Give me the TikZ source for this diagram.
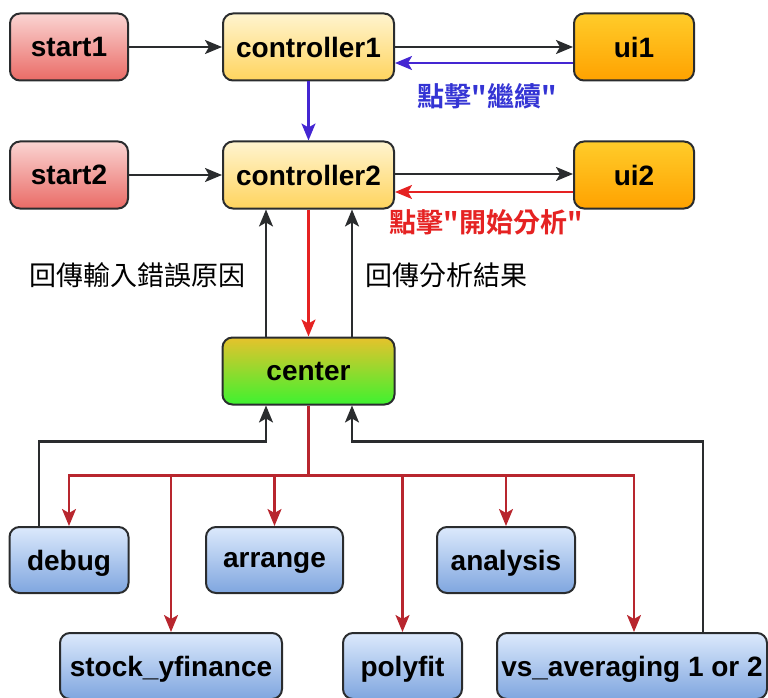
\documentclass[tikz,border=0pt]{standalone}
\usepackage{fontspec}
\setmainfont{Liberation Sans}
\newfontfamily\cjk{Noto Sans CJK TC}[BoldFont={Noto Sans CJK TC Bold}]
\usetikzlibrary{arrows.meta,calc}

\definecolor{edge}{HTML}{2A2C2E}
\definecolor{linkblue}{HTML}{4426D2}
\definecolor{labelblue}{HTML}{3434D4}
\definecolor{linkred}{HTML}{E52222}
\definecolor{busred}{HTML}{B8262E}
\definecolor{startT}{HTML}{FAD4D2}
\definecolor{startB}{HTML}{EA6B66}
\definecolor{ctrlT}{HTML}{FFF4CF}
\definecolor{ctrlB}{HTML}{FFD45E}
\definecolor{uiT}{HTML}{FFCC2A}
\definecolor{uiB}{HTML}{FFA200}
\definecolor{hubT}{HTML}{E6C22C}
\definecolor{hubB}{HTML}{3EF230}
\definecolor{modT}{HTML}{DCE9FC}
\definecolor{modB}{HTML}{7FA6DF}

\tikzset{
  box/.style={draw=edge, line width=2pt, rounded corners=10pt,
    font=\fontsize{28}{32}\selectfont\bfseries, text=black,
    minimum height=67pt, inner sep=0pt, text depth=0pt},
  startbox/.style={box, minimum width=118pt, top color=startT, bottom color=startB},
  ctrlbox/.style={box, minimum width=171pt, top color=ctrlT, bottom color=ctrlB},
  uibox/.style={box, minimum width=120pt, top color=uiT, bottom color=uiB},
  hubbox/.style={box, minimum width=172pt, top color=hubT, bottom color=hubB},
  modbox/.style={box, minimum height=66pt, top color=modT, bottom color=modB},
  tip/.style={-{Stealth[length=17pt,width=14pt,inset=4pt]}},
  arr/.style={tip, draw=edge, line width=2.2pt},
  arrblue/.style={tip, draw=linkblue, line width=2.2pt},
  arrred/.style={tip, draw=linkred, line width=2.2pt},
  arrbus/.style={tip, draw=busred, line width=2.2pt},
  note/.style={font=\cjk\fontsize{27}{30}\selectfont, inner sep=0pt},
  bnote/.style={font=\cjk\bfseries\fontsize{27}{30}\selectfont, inner sep=0pt}
}

\begin{document}
\begin{tikzpicture}[x=1pt, y=-1pt]
\useasboundingbox (0,0) rectangle (768,698);

% top two rows
\node[startbox] (start1) at (69,47) {start1};
\node[ctrlbox] (controller1) at (308.5,47) {controller1};
\node[uibox] (ui1) at (634,47) {ui1};
\node[startbox] (start2) at (69,175) {start2};
\node[ctrlbox] (controller2) at (308.5,175) {controller2};
\node[uibox] (ui2) at (634,175) {ui2};

% hub
\node[hubbox] (center) at (308.5,371) {center};

% modules
\node[modbox, minimum width=119pt] (debug) at (69,560) {debug};
\node[modbox, minimum width=137pt] (arrange) at (274.5,560) {arrange};
\node[modbox, minimum width=138pt] (analysis) at (506,560) {analysis};
\node[modbox, minimum width=222pt] (stock) at (171,666) {stock\_yfinance};
\node[modbox, minimum width=119pt] (polyfit) at (402.5,666) {polyfit};
\node[modbox, minimum width=270pt] (vsavg) at (632,666) {vs\_averaging 1 or 2};

% labels
\node[bnote, text=labelblue] (lblcont) at (487,96) {點擊"繼續"};
\node[bnote, text=linkred] (lblstart) at (486,222) {點擊"開始分析"};
\node[note] (lblerr) at (137,275) {回傳輸入錯誤原因};
\node[note] (lblres) at (446,275) {回傳分析結果};

% row connectors
\draw[arr] (start1) -- (controller1);
\draw[arr] (start2) -- (controller2);
\draw[arr] (controller1) -- (ui1);
\draw[arr] ([yshift=1pt]controller2.east) -- ([yshift=1pt]ui2.west);
\draw[arrblue] ([yshift=-16pt]ui1.west) -- ([yshift=-16pt]controller1.east);
\draw[arrred] ([yshift=-17pt]ui2.west) -- ([yshift=-17pt]controller2.east);
\draw[arrblue] (controller1.south) -- (controller2.north);

% hub to controller2
\draw[arrred] (controller2.south) -- (center.north);
\draw[arr] ([xshift=-42.5pt]center.north) -- ([xshift=-42.5pt]controller2.south);
\draw[arr] ([xshift=43.5pt]center.north) -- ([xshift=43.5pt]controller2.south);

% returns into the hub
\coordinate (cinL) at ([xshift=-42.5pt]center.south);
\coordinate (cinR) at ([xshift=43.5pt]center.south);
\draw[arr] ([xshift=-30pt]debug.north) |- ($(cinL)+(0,36)$) -- (cinL);
\draw[arr] ([xshift=71pt]vsavg.north) |- ($(cinR)+(0,36)$) -- (cinR);

% hub fan-out
\coordinate (bus) at ($(center.south)+(0,70)$);
\draw[busred, line width=2.2pt] (center.south) -- (bus);
\draw[arrbus] (bus) -| (debug.north);
\draw[arrbus] (bus) -| (stock.north);
\draw[arrbus] (bus) -| (arrange.north);
\draw[arrbus] (bus) -| (polyfit.north);
\draw[arrbus] (bus) -| (analysis.north);
\draw[arrbus] (bus) -| ([xshift=2pt]vsavg.north);
\end{tikzpicture}
\end{document}
